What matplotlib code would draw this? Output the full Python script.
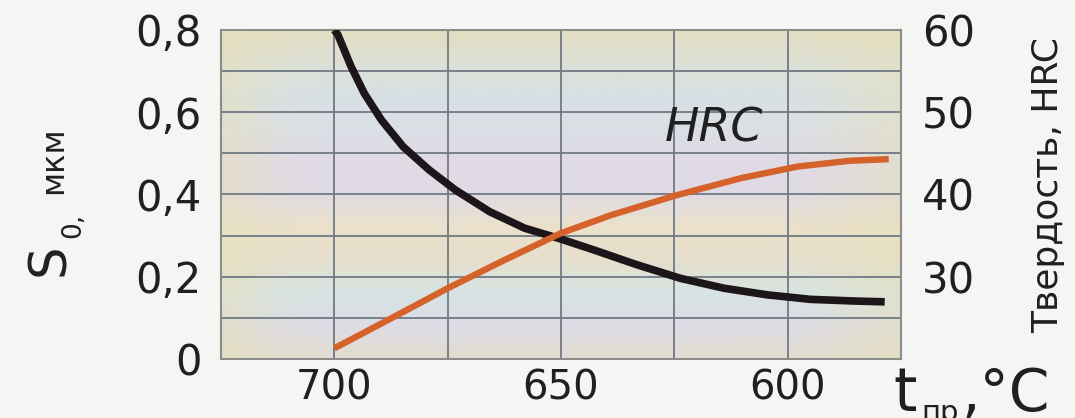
import numpy as np
import matplotlib
matplotlib.use('Agg')
import matplotlib.pyplot as plt
from matplotlib.colors import to_rgb

# S0, mkm (left axis) vs tempering temperature
t_s0 = [700, 699.2, 696.3, 693.4, 689.6, 684.8, 679.1, 673.3, 665.7, 658.0, 650.4,
        642.7, 633.2, 623.6, 614.0, 604.5, 594.9, 585.3, 578.6]
s0 = [0.80, 0.788, 0.711, 0.646, 0.581, 0.516, 0.460, 0.411, 0.358, 0.318, 0.293,
      0.265, 0.229, 0.196, 0.172, 0.156, 0.145, 0.141, 0.139]

# hardness HRC (right axis)
t_hrc = [700, 688.3, 675, 662.6, 650, 638.9, 624.6, 610.2, 597.8, 586.3, 577.7]
hrc = [21.3, 24.7, 28.6, 32.0, 35.3, 37.5, 39.9, 42.0, 43.4, 44.1, 44.3]

x_major = [700, 650, 600]
x_minor = [725, 700, 675, 650, 625, 600, 575]
s0_ticks = [0, 0.2, 0.4, 0.6, 0.8]
s0_labels = ['0', '0,2', '0,4', '0,6', '0,8']
hrc_ticks = [30, 40, 50, 60]

plt.rcParams['font.family'] = ['DejaVu Sans']
ink = '#202020'

fig = plt.figure(figsize=(10.75, 4.18), dpi=100, facecolor='#f5f5f3')
ax = fig.add_axes([221 / 1075, 1 - 359 / 418, 680 / 1075, 329 / 418])

# pastel background of the chart (top to bottom), yellowish at the side edges
stops = ['#e2dec0', '#dde0d6', '#d8e0e4', '#dbdfe5', '#dfdae5', '#e0dbe4',
         '#ebe1cb', '#e6dfcc', '#d7e4e3', '#dddce5', '#e2dccf']
col = np.array([to_rgb(c) for c in stops])
rows = np.linspace(0, 1, 200)
grad = np.stack([np.interp(rows, np.linspace(0, 1, len(stops)), col[:, k]) for k in range(3)], axis=1)
u = np.linspace(0, 1, 300)
edge = 0.55 * np.exp(-(u / 0.07) ** 2) + 0.5 * np.exp(-((u - 1.0) / 0.1) ** 2)
yel = np.array(to_rgb('#e6e0bc'))
img = grad[:, None, :] * (1 - edge[None, :, None]) + yel * edge[None, :, None]
ax.imshow(img, extent=[725, 575, 0, 0.8], aspect='auto', zorder=0)

ax.set_xlim(725, 575)
ax.set_ylim(0, 0.8)
ax.set_xticks(x_major)
ax.set_xticks(x_minor, minor=True)
ax.set_yticks(s0_ticks)
ax.set_yticklabels(s0_labels)
ax.set_yticks(np.arange(0, 0.81, 0.1), minor=True)
ax.grid(True, which='both', color='#707a84', linewidth=1.3, zorder=1)
ax.tick_params(which='both', length=0)
ax.tick_params(axis='y', labelsize=30, pad=14, colors=ink)
ax.tick_params(axis='x', labelsize=29, pad=7, colors=ink)
for s in ax.spines.values():
    s.set_color('#8c8c8c')
    s.set_linewidth(1.5)

ax.plot(t_s0, s0, color='#1c1519', linewidth=5.5, solid_capstyle='butt',
        solid_joinstyle='round', zorder=3)

ax2 = ax.twinx()
ax2.set_ylim(20, 60)
ax2.set_yticks(hrc_ticks)
ax2.tick_params(length=0, labelsize=30, pad=15, colors=ink)
for s in ax2.spines.values():
    s.set_visible(False)
ax2.plot(t_hrc, hrc, color='#d4622a', linewidth=4.6, solid_capstyle='butt',
         solid_joinstyle='round', zorder=3)

ax.text(616.2, 0.559, 'HRC', fontsize=33, style='italic', color=ink,
        ha='center', va='center', zorder=4)


# axis titles, placed in pixels of the picture
def px(x, y):
    return x / 1075, 1 - y / 418


kw = dict(rotation=90, rotation_mode='anchor', ha='left', va='baseline', color=ink)
fig.text(*px(64, 276), 'S', fontsize=37, **kw)
fig.text(*px(80, 238), '0,', fontsize=19, **kw)
fig.text(*px(62, 194), 'мкм', fontsize=23, **kw)

fig.text(*px(1048, 185), 'Твердость, HRC', fontsize=26, rotation=90,
         ha='center', va='center', color=ink)

fig.text(*px(893, 411), 't', fontsize=43, color=ink)
fig.text(*px(921, 421), 'пр', fontsize=21, color=ink)
fig.text(*px(961, 411), ',°C', fontsize=42, color=ink)

fig.savefig('out.png', dpi=100, facecolor=fig.get_facecolor())
